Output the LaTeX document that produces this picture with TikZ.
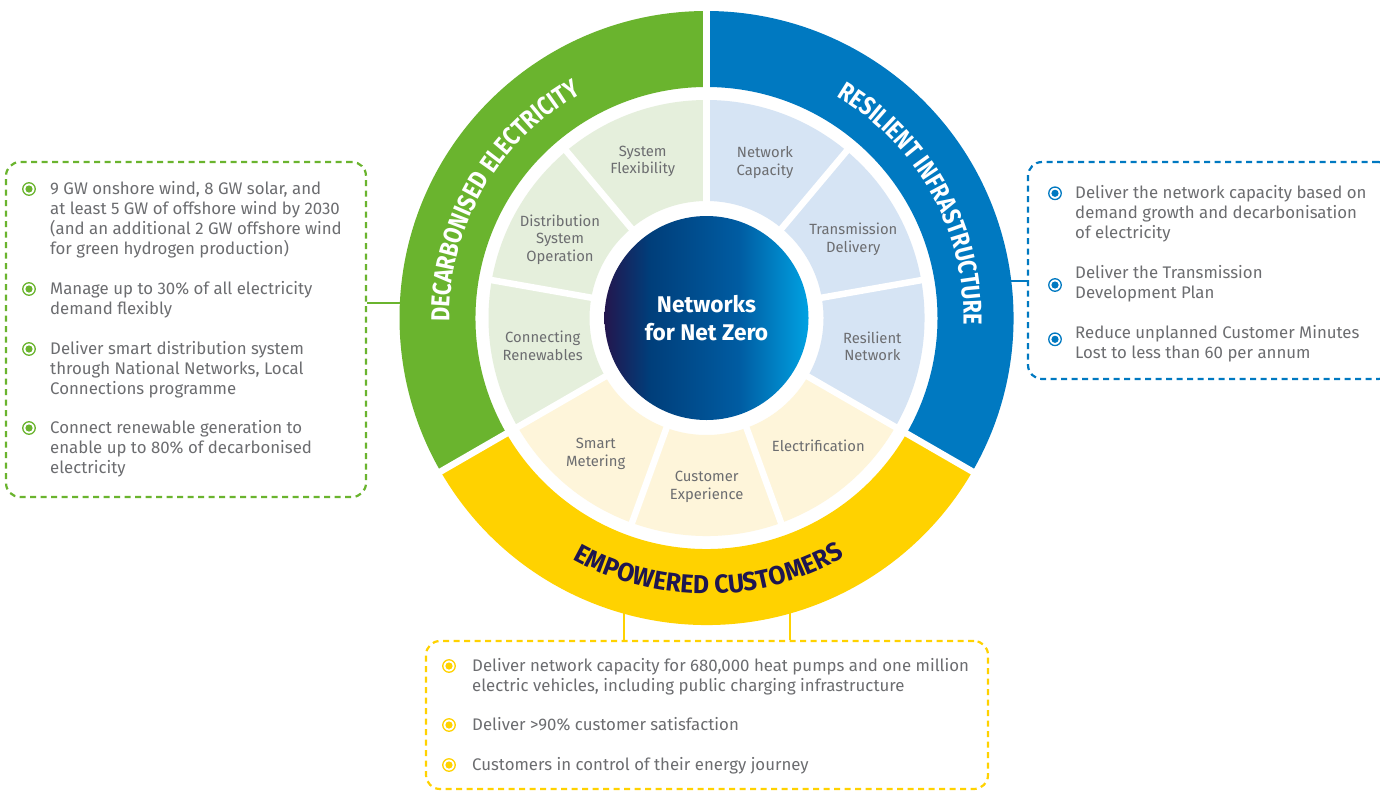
\documentclass[tikz,border=0pt]{standalone}
\usepackage{fontspec}
\setmainfont{Fira Sans}
\newfontfamily\ringfont[FakeStretch=0.83]{Fira Sans}
\newfontfamily\ringfontw[FakeStretch=0.95]{Fira Sans}
\usetikzlibrary{decorations.text,calc}
\definecolor{gR}{RGB}{106,180,46}
\definecolor{bR}{RGB}{0,121,193}
\definecolor{yR}{RGB}{255,210,0}
\definecolor{gP}{RGB}{229,239,220}
\definecolor{bP}{RGB}{214,228,244}
\definecolor{yP}{RGB}{254,245,218}
\definecolor{txtgrey}{RGB}{108,109,112}
\definecolor{navy}{RGB}{30,22,80}
\definecolor{nz1}{RGB}{35,22,78}
\definecolor{nz2}{RGB}{0,62,122}
\definecolor{nz3}{RGB}{0,92,162}
\definecolor{nz4}{RGB}{0,162,226}
\pgfdeclarehorizontalshading{nzshade}{100bp}{color(0bp)=(nz1); color(25bp)=(nz1); color(36bp)=(nz2); color(58bp)=(nz3); color(75bp)=(nz4); color(100bp)=(nz4)}
\begin{document}
\begin{tikzpicture}[x=1pt,y=1pt,
  dbox/.style={draw=#1, line width=2.2pt, dash pattern=on 6pt off 4.5pt, rounded corners=14pt, inner sep=0},
  bul/.style={circle, draw=#1, line width=1.3pt, minimum size=12.5pt, inner sep=0, fill=white,
    path picture={\fill[#1] (path picture bounding box.center) circle (3.6pt);}},
  btext/.style={anchor=base west, align=left, text=txtgrey, font=\fontsize{16.8}{20}\selectfont, inner sep=0},
  slabel/.style={align=center, text=txtgrey, font=\fontsize{14.8}{17.5}\selectfont, inner sep=0},
  conn/.style={draw=#1, line width=1.5pt},
  gapline/.style={draw=white, line width=6.5pt}]
\useasboundingbox (0,0) rectangle (1380,-790);
\clip (0,0) rectangle (1380,-790);
\fill[white] (0,0) rectangle (1380,-790);

% boxes
\node[dbox=gR, minimum width=360pt, minimum height=335pt] (boxG) at (186,-329.5) {};
\node[dbox=bR, minimum width=364pt, minimum height=217pt] (boxB) at (1210,-270.5) {};
\node[dbox=yR, minimum width=562pt, minimum height=148pt] (boxY) at (707,-715) {};

% connectors
\coordinate (rG) at (402,-303);
\coordinate (rB) at (1009,-281);
\coordinate (rY1) at (624,-605);
\coordinate (rY2) at (790,-605);
\draw[conn=gR] (boxG.east |- rG) -- (rG);
\draw[conn=bR] (rB) -- (rB -| boxB.west);
\draw[conn=yR] (rY1) -- (rY1 |- boxY.north);
\draw[conn=yR] (rY2) -- (rY2 |- boxY.north);

% wheel
\begin{scope}[shift={(706.5,-318)}]
  \fill[gR] (90:307) arc[start angle=90,end angle=210,radius=307] -- (210:231) arc[start angle=210,end angle=90,radius=231] -- cycle;
  \fill[bR] (-30:307) arc[start angle=-30,end angle=90,radius=307] -- (90:231) arc[start angle=90,end angle=-30,radius=231] -- cycle;
  \fill[yR] (210:307) arc[start angle=210,end angle=330,radius=307] -- (330:231) arc[start angle=330,end angle=210,radius=231] -- cycle;
  \foreach \a in {90,210,330} \draw[gapline] (\a:222) -- (\a:316);
  \fill[gP] (90:218) arc[start angle=90,end angle=210,radius=218] -- (210:117) arc[start angle=210,end angle=90,radius=117] -- cycle;
  \fill[bP] (-30:218) arc[start angle=-30,end angle=90,radius=218] -- (90:117) arc[start angle=90,end angle=-30,radius=117] -- cycle;
  \fill[yP] (210:218) arc[start angle=210,end angle=330,radius=218] -- (330:117) arc[start angle=330,end angle=210,radius=117] -- cycle;
  \foreach \a in {10,50,...,330} \draw[gapline] (\a:108) -- (\a:222);
  % ring labels
  \path[decorate, decoration={text along path, text align=center,
     text={|\ringfont\bfseries\fontsize{26}{26}\selectfont\color{white}|DECARBONISED ELECTRICITY}}]
     (212:257) arc[start angle=212,end angle=88,radius=257];
  \path[decorate, decoration={text along path, text align=center,
     text={|\ringfont\bfseries\fontsize{26}{26}\selectfont\color{white}|RESILIENT INFRASTRUCTURE}}]
     (91:257) arc[start angle=91,end angle=-33,radius=257];
  \path[decorate, decoration={text along path, text align=center,
     text={|\ringfontw\bfseries\fontsize{26}{26}\selectfont\color{navy}|EMPOWERED CUSTOMERS}}]
     (215:276) arc[start angle=215,end angle=326,radius=276];
\end{scope}

% hub
\node[circle, minimum size=204pt, inner sep=0, shading=nzshade, text=white, align=center,
  font=\bfseries\fontsize{22.7}{27.5}\selectfont] (hub) at (706.5,-318) {Networks\\for Net Zero};

% sector labels
\node[slabel] (sFlex) at (642.7,-161.5) {System\\Flexibility};
\node[slabel] (sCap) at (765,-162.3) {Network\\Capacity};
\node[slabel] (sDSO) at (560,-239.5) {Distribution\\System\\Operation};
\node[slabel] (sTD) at (853.3,-239.5) {Transmission\\Delivery};
\node[slabel] (sCR) at (542.7,-346) {Connecting\\Renewables};
\node[slabel] (sRN) at (872.3,-346.5) {Resilient\\Network};
\node[slabel] (sSM) at (595.7,-454) {Smart\\Metering};
\node[slabel] (sCE) at (706.7,-487) {Customer\\Experience};
\node[slabel] (sEl) at (818.3,-445.5) {Electrification};

% green list
\node[bul=gR] (gb1) at (29,-189) {};
\node[bul=gR] (gb2) at (29,-289) {};
\node[bul=gR] (gb3) at (29,-349) {};
\node[bul=gR] (gb4) at (29,-428) {};
\node[btext] (gt1) at (50,-254.5) {9 GW onshore wind, 8 GW solar, and\\at least 5 GW of offshore wind by 2030\\(and an additional 2 GW offshore wind\\for green hydrogen production)};
\node[btext] (gt2) at (50,-314.5) {Manage up to 30\% of all electricity\\demand flexibly};
\node[btext] (gt3) at (50,-394.2) {Deliver smart distribution system\\through National Networks, Local\\Connections programme};
\node[btext] (gt4) at (50,-473.2) {Connect renewable generation to\\enable up to 80\% of decarbonised\\electricity};

% blue list
\node[bul=bR] (bb1) at (1055,-193.3) {};
\node[bul=bR] (bb2) at (1055,-285) {};
\node[bul=bR] (bb3) at (1055,-339.3) {};
\node[btext] (bt1) at (1075,-238.8) {Deliver the network capacity based on\\demand growth and decarbonisation\\of electricity};
\node[btext] (bt2) at (1075,-298.8) {Deliver the Transmission\\Development Plan};
\node[btext] (bt3) at (1075,-358.2) {Reduce unplanned Customer Minutes\\Lost to less than 60 per annum};

% yellow list
\node[bul=yR] (yb1) at (449,-666) {};
\node[bul=yR] (yb2) at (449,-725) {};
\node[bul=yR] (yb3) at (449,-765) {};
\node[btext] (yt1) at (472,-691.5) {Deliver network capacity for 680,000 heat pumps and one million\\electric vehicles, including public charging infrastructure};
\node[btext] (yt2) at (472,-730.5) {Deliver >90\% customer satisfaction};
\node[btext] (yt3) at (472,-770.5) {Customers in control of their energy journey};
\end{tikzpicture}
\end{document}
